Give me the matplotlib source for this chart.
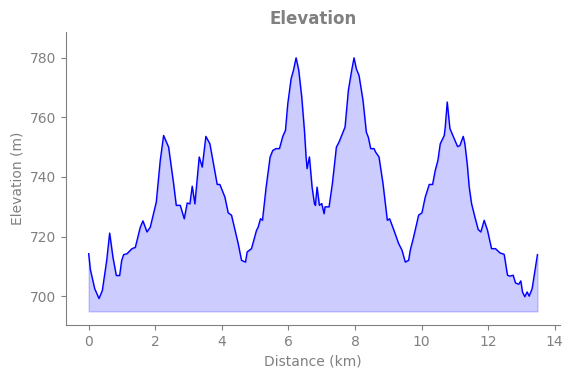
import matplotlib
matplotlib.use('Agg')
import matplotlib.pyplot as plt

# Elevation profile
dist_km = [0.00, 0.05, 0.18, 0.31, 0.41, 0.54, 0.63, 0.73, 0.83, 0.93, 0.99, 1.05, 1.15, 1.30,
           1.40, 1.55, 1.63, 1.75, 1.85, 2.03, 2.15, 2.25, 2.40, 2.55, 2.63, 2.75, 2.87, 2.96,
           3.04, 3.11, 3.19, 3.32, 3.41, 3.52, 3.64, 3.86, 3.94, 4.09, 4.19, 4.29, 4.49, 4.59,
           4.71, 4.76, 4.89, 5.04, 5.09, 5.16, 5.22, 5.33, 5.45, 5.53, 5.63, 5.73, 5.83, 5.91,
           5.98, 6.08, 6.15, 6.23, 6.31, 6.40, 6.48, 6.53, 6.56, 6.63, 6.71, 6.78, 6.81, 6.86,
           6.93, 7.00, 7.07, 7.10, 7.22, 7.32, 7.44, 7.52, 7.62, 7.70, 7.80, 7.90, 7.97, 8.04,
           8.12, 8.24, 8.34, 8.40, 8.47, 8.57, 8.62, 8.72, 8.84, 8.97, 9.04, 9.17, 9.31, 9.41,
           9.51, 9.61, 9.66, 9.76, 9.91, 10.01, 10.11, 10.23, 10.33, 10.41, 10.49, 10.56, 10.68,
           10.71, 10.77, 10.85, 10.96, 11.08, 11.15, 11.25, 11.30, 11.37, 11.43, 11.50, 11.60,
           11.70, 11.78, 11.88, 11.98, 12.10, 12.22, 12.35, 12.48, 12.58, 12.65, 12.75, 12.82,
           12.92, 12.98, 13.03, 13.10, 13.17, 13.23, 13.32, 13.40, 13.48]
elev_m = [714.3, 709.0, 702.6, 699.3, 702.0, 712.0, 721.2, 713.0, 707.0, 707.0, 712.0, 714.0,
          714.3, 716.0, 716.4, 723.2, 725.3, 721.6, 723.2, 731.6, 745.6, 753.9, 750.0, 737.8,
          730.5, 730.5, 726.0, 731.3, 731.0, 736.9, 731.0, 746.7, 743.3, 753.6, 751.1, 737.5,
          737.5, 733.3, 728.0, 727.2, 717.7, 712.1, 711.5, 714.9, 716.0, 722.1, 723.2, 726.0,
          725.5, 736.6, 746.7, 748.9, 749.5, 749.5, 753.6, 755.6, 764.5, 772.9, 775.7, 779.9,
          775.7, 766.7, 755.6, 746.7, 742.8, 746.7, 736.6, 731.1, 730.5, 736.6, 730.5, 731.1,
          727.7, 730.0, 730.0, 737.8, 750.0, 751.7, 754.5, 756.7, 769.0, 775.7, 779.9, 776.2,
          774.0, 765.6, 755.0, 753.3, 749.5, 749.5, 748.3, 746.7, 737.8, 725.5, 726.0, 722.1,
          717.7, 715.5, 711.5, 712.1, 715.5, 719.9, 727.2, 728.0, 733.3, 737.5, 737.5, 742.2,
          745.6, 751.1, 753.9, 756.7, 765.1, 756.2, 753.3, 750.2, 750.5, 753.6, 751.1, 744.4,
          736.6, 731.1, 726.6, 722.4, 721.6, 725.5, 722.1, 716.0, 716.0, 714.6, 714.1, 707.1,
          706.8, 707.1, 704.5, 704.1, 705.2, 701.5, 699.9, 701.5, 700.1, 702.6, 708.2, 714.0]
fill_base = 695

grey = '#808080'

fig, ax = plt.subplots(figsize=(5.76, 3.78), dpi=100)
ax.plot(dist_km, elev_m, color='blue', linewidth=1)
ax.fill_between(dist_km, elev_m, fill_base, color='blue', alpha=0.2)

ax.set_ylim(690.4, 788.5)
ax.set_xticks(range(0, 15, 2))
ax.set_yticks(range(700, 781, 20))

ax.set_title('Elevation', color=grey, fontsize=12, fontweight='bold')
ax.set_xlabel('Distance (km)', color=grey)
ax.set_ylabel('Elevation (m)', color=grey)

ax.spines['top'].set_visible(False)
ax.spines['right'].set_visible(False)
for s in ['left', 'bottom']:
    ax.spines[s].set_color(grey)
ax.tick_params(colors=grey)

plt.subplots_adjust(left=0.115, right=0.972, top=0.915, bottom=0.140)
plt.savefig('out.png')
